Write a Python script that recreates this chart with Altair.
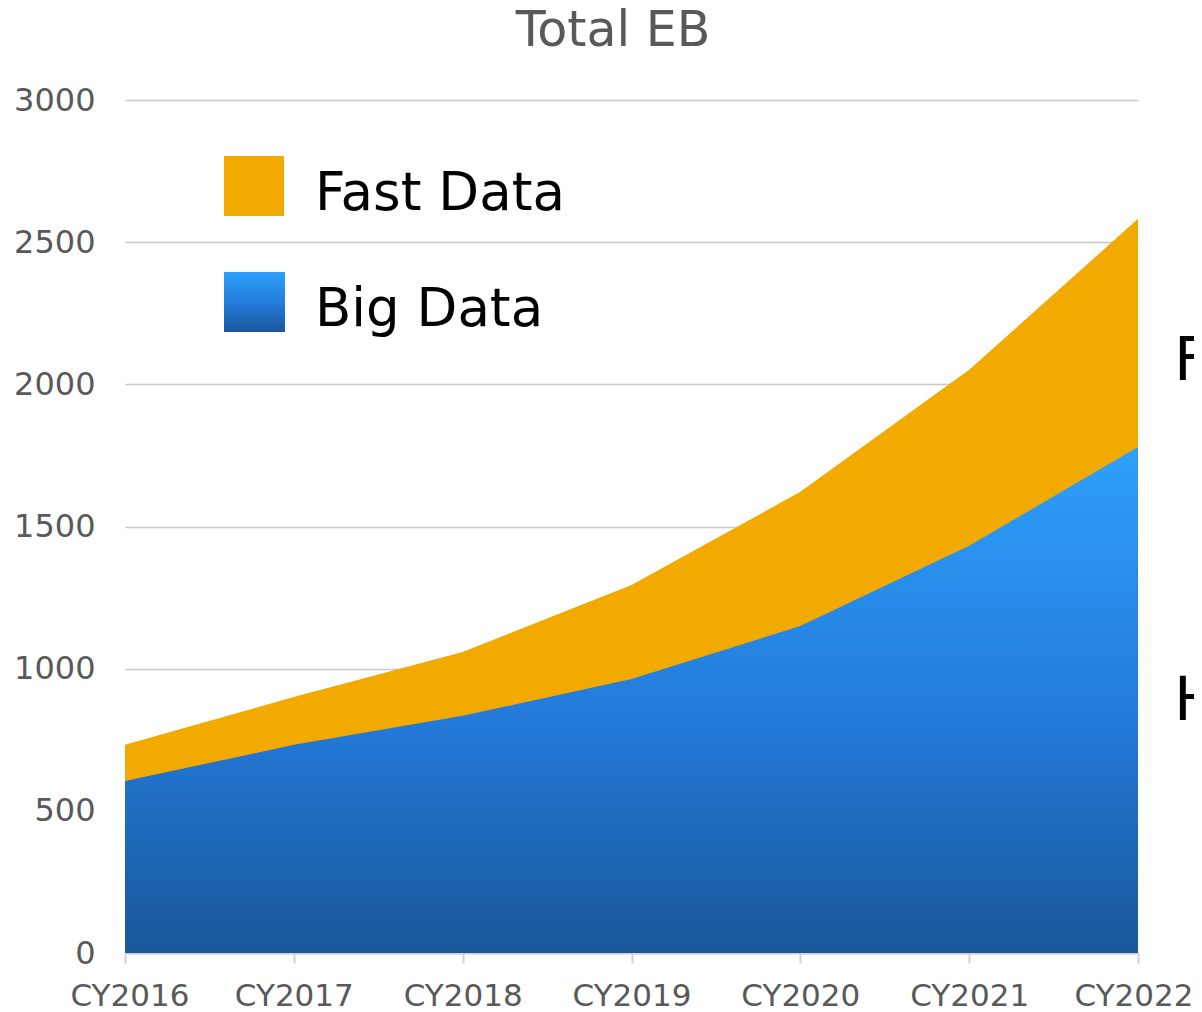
import altair as alt
import pandas as pd

years = ["CY2016", "CY2017", "CY2018", "CY2019", "CY2020", "CY2021", "CY2022"]
big_data = [605, 732, 834, 964, 1150, 1432, 1780]
fast_data = [127, 168, 225, 330, 472, 619, 802]
series_names = ["Fast Data", "Big Data"]
y_ticks = [0, 500, 1000, 1500, 2000, 2500, 3000]
chart_title = "Total EB"
side_labels = ["F", "H"]

FONT = "DejaVu Sans"
ORANGE = "#F2A900"
BLUE_GRAD = alt.Gradient(
    gradient="linear",
    stops=[
        alt.GradientStop(color="#2EA0FC", offset=0),
        alt.GradientStop(color="#2379D8", offset=0.55),
        alt.GradientStop(color="#19589B", offset=1),
    ],
    x1=0, x2=0, y1=0, y2=1,
)

df = pd.DataFrame({"year": years, "big": big_data, "fast": fast_data})

x_enc = alt.X(
    "year:N",
    sort=years,
    scale=alt.Scale(type="point", padding=0),
    axis=alt.Axis(
        title=None, labelAngle=0, labelFontSize=31, labelColor="#595959",
        labelFont=FONT, tickColor="#D0D0D0", tickSize=10, tickWidth=2,
        domainColor="#D0D0D0", domainWidth=2, labelPadding=18, grid=False,
        labelFlush=True, labelFlushOffset=55,
    ),
)
y_axis = alt.Axis(
    values=y_ticks, format="d", title=None, domain=False, ticks=False,
    labelPadding=30, gridColor="#C8C8C8", gridWidth=1.5, labelFontSize=32,
    labelColor="#595959", labelFont=FONT,
)
y_scale = alt.Scale(domain=[0, 3000])

base = alt.Chart(df)

fast_area = base.transform_calculate(total="datum.big + datum.fast").mark_area(
    color=ORANGE
).encode(x=x_enc, y=alt.Y("total:Q", scale=y_scale, axis=y_axis))

big_area = base.mark_area(color=BLUE_GRAD).encode(
    x=x_enc, y=alt.Y("big:Q", scale=y_scale, axis=y_axis)
)

title_df = pd.DataFrame({"t": [chart_title]})
title = alt.Chart(title_df).mark_text(
    fontSize=49, font=FONT, color="#595959", align="center", baseline="alphabetic"
).encode(text="t:N", x=alt.value(488), y=alt.value(-54))

leg_df1 = pd.DataFrame({"t": [series_names[0]]})
leg_df2 = pd.DataFrame({"t": [series_names[1]]})
leg_sq1 = alt.Chart(leg_df1).mark_rect(color=ORANGE).encode(
    x=alt.value(99), x2=alt.value(159), y=alt.value(56), y2=alt.value(116)
)
leg_sq2 = alt.Chart(leg_df2).mark_rect(color=BLUE_GRAD).encode(
    x=alt.value(99), x2=alt.value(160), y=alt.value(172), y2=alt.value(232)
)
leg_t1 = alt.Chart(leg_df1).mark_text(
    fontSize=53, font=FONT, color="black", align="left", baseline="alphabetic"
).encode(text="t:N", x=alt.value(190), y=alt.value(110))
leg_t2 = alt.Chart(leg_df2).mark_text(
    fontSize=53, font=FONT, color="black", align="left", baseline="alphabetic"
).encode(text="t:N", x=alt.value(190), y=alt.value(226))

side_df1 = pd.DataFrame({"t": [side_labels[0]]})
side_df2 = pd.DataFrame({"t": [side_labels[1]]})
side1 = alt.Chart(side_df1).mark_text(
    fontSize=60, font=FONT, color="black", align="left", baseline="alphabetic"
).encode(text="t:N", x=alt.value(1049), y=alt.value(280))
side2 = alt.Chart(side_df2).mark_text(
    fontSize=60, font=FONT, color="black", align="left", baseline="alphabetic"
).encode(text="t:N", x=alt.value(1049), y=alt.value(620))

chart = alt.layer(
    fast_area, big_area, title, leg_sq1, leg_sq2, leg_t1, leg_t2, side1, side2
).properties(
    width=1013, height=853,
    autosize=alt.AutoSizeParams(type="none"),
    padding={"left": 117, "top": 92, "right": 56, "bottom": 59},
).configure_view(stroke=None)

chart.save("out.html", embed_options={"renderer": "svg", "actions": False})
